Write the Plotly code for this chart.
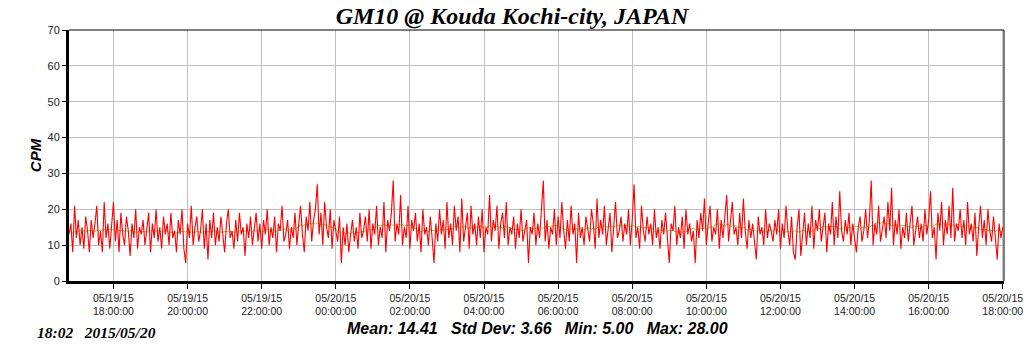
import plotly.graph_objects as go
import pandas as pd

title_text = "GM10 @ Kouda Kochi-city, JAPAN"
stats_text = "Mean: 14.41   Std Dev: 3.66   Min: 5.00   Max: 28.00"
stamp_text = "18:02   2015/05/20"
start_time = "2015-05-19 16:48"
end_time = "2015-05-20 18:02"
step_minutes = 3

cpm = [
    13,16,8,21,12,17,10,15,9,18,14,8,17,12,16,21,10,14,8,22,
    12,16,9,15,22,11,17,8,19,13,10,18,14,7,16,12,20,9,15,13,
    17,10,14,19,8,16,12,20,11,15,9,18,13,16,10,19,12,14,8,17,
    13,20,9,5,16,12,21,10,15,18,11,14,20,9,16,6,17,12,19,10,
    15,11,18,13,8,16,20,12,14,9,17,11,19,13,15,7,16,12,18,10,
    14,19,11,16,9,17,13,20,10,15,12,18,8,16,14,21,11,13,17,9,
    15,12,19,10,16,21,13,8,18,14,22,11,17,20,27,13,19,10,22,15,
    12,20,9,17,14,11,18,5,15,10,16,8,13,17,11,15,9,19,12,14,
    18,11,20,9,16,13,21,10,15,12,22,8,17,14,19,28,11,16,13,24,
    10,15,12,21,9,17,14,19,11,16,8,20,13,15,10,18,12,5,16,11,
    20,13,17,9,22,12,16,10,21,14,18,8,23,11,15,19,9,21,13,16,
    10,18,12,20,8,15,13,24,11,17,14,21,9,16,19,12,22,10,15,13,
    18,9,16,12,20,11,14,17,5,15,13,19,10,16,12,21,28,11,17,9,
    15,13,20,10,18,12,22,14,9,17,11,21,13,16,5,19,12,15,10,18,
    14,11,20,16,9,23,12,17,13,21,10,15,19,8,16,22,12,14,18,11,
    16,13,20,10,17,27,12,15,9,21,14,11,18,13,16,10,20,12,15,9,
    17,13,19,11,5,16,14,21,10,15,12,18,9,20,13,16,11,14,5,17,
    12,19,14,23,10,16,21,11,15,13,20,9,17,12,18,24,11,16,22,13,
    15,10,19,12,23,14,9,17,12,16,11,6,18,13,15,10,20,12,16,14,
    11,17,13,20,9,16,12,21,14,10,18,8,6,15,20,7,13,19,10,16,
    12,21,9,17,14,20,11,15,19,8,16,13,22,10,18,12,25,14,11,17,
    13,19,10,16,12,8,15,18,11,14,20,12,17,28,10,16,13,21,11,15,
    18,12,22,14,26,10,17,13,20,9,15,12,19,11,16,21,10,14,18,12,
    16,11,20,13,17,25,12,15,6,19,14,22,10,17,13,21,12,26,11,16,
    14,20,12,17,10,22,13,16,11,19,7,15,21,12,17,10,20,14,11,18,
    13,6,16,12,15,
]

times = pd.date_range(start=start_time, periods=len(cpm), freq=f"{step_minutes}min")
avg = pd.Series(cpm).rolling(20, center=True, min_periods=1).mean()

fig = go.Figure()
fig.add_trace(go.Scatter(x=times, y=avg, mode="lines",
                         line=dict(color="#90c840", width=1), hoverinfo="skip"))
fig.add_trace(go.Scatter(x=times, y=cpm, mode="lines",
                         line=dict(color="#ff0000", width=1.1)))

fig.update_layout(
    width=1024, height=351,
    margin=dict(l=69, r=20, t=30, b=70),
    paper_bgcolor="white", plot_bgcolor="white",
    showlegend=False,
    title=dict(text=f"<b><i>{title_text}</i></b>", x=512/1024, xanchor="center",
               y=1 - 16/351, yanchor="middle",
               font=dict(family="Liberation Serif", size=24, color="black")),
    xaxis=dict(
        range=[start_time, end_time], automargin=False,
        tick0="2015-05-19 18:00", dtick=2*3600*1000,
        tickformat="%m/%d/%y<br>%H:%M:%S",
        showgrid=True, gridcolor="#c0c0c0", gridwidth=1,
        showline=True, linecolor="black", linewidth=3,
        ticks="outside", ticklen=5, tickcolor="black", tickwidth=1,
        tickfont=dict(family="Liberation Sans", size=10.5, color="#222222"),
        zeroline=False,
    ),
    yaxis=dict(
        range=[0, 70], dtick=10, automargin=False,
        showgrid=True, gridcolor="#c0c0c0", gridwidth=1,
        showline=True, linecolor="black", linewidth=3,
        ticks="outside", ticklen=4, tickcolor="black", tickwidth=1,
        tickfont=dict(family="Liberation Sans", size=11, color="#222222"),
        title=dict(text="<b><i>CPM</i></b>", standoff=3,
                   font=dict(family="Liberation Sans", size=15, color="black")),
        zeroline=False,
    ),
    shapes=[
        dict(type="line", xref="paper", yref="paper", x0=0, x1=1, y0=1, y1=1,
             line=dict(color="black", width=1)),
        dict(type="line", xref="paper", yref="paper", x0=1, x1=1, y0=0, y1=1,
             line=dict(color="black", width=1)),
    ],
    annotations=[
        dict(text=f"<b><i>{stats_text}</i></b>", xref="paper", yref="paper",
             x=(537-69)/935, y=-(328-281)/251, xanchor="center", yanchor="middle",
             showarrow=False,
             font=dict(family="Liberation Sans", size=16, color="black")),
        dict(text=f"<b><i>{stamp_text}</i></b>", xref="paper", yref="paper",
             x=(35-69)/935, y=-(332-281)/251, xanchor="left", yanchor="middle",
             showarrow=False,
             font=dict(family="Liberation Serif", size=15.5, color="black")),
    ],
)

fig.write_html("out.html")
